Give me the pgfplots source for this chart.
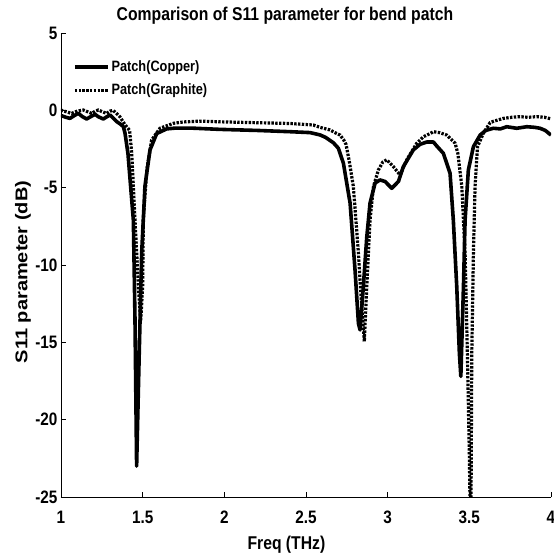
\documentclass[border=0pt]{standalone}
\usepackage{fontspec}
\usepackage{graphicx}
\usepackage{pgfplots}
\pgfplotsset{compat=1.18}
\setmainfont{Liberation Sans}[FakeStretch=0.85]
\newfontfamily\ylfont{Liberation Sans}
\newcommand\fs[1]{\fontsize{#1bp}{#1bp}\selectfont\bfseries}

\begin{document}
\begin{tikzpicture}
\useasboundingbox (-61bp,-60bp) rectangle (493bp,497bp);
\begin{axis}[
    at={(0,0)}, anchor=south west,
    scale only axis,
    width=490bp, height=464bp,
    xmin=1, xmax=4, ymin=-25, ymax=5,
    axis x line=bottom, axis y line=left,
    axis line style={-, line width=0.8bp},
    tick align=inside,
    major tick length=5bp,
    tick style={black, line width=0.6bp},
    xtick={1,1.5,2,2.5,3,3.5,4},
    xticklabels={1,1.5,2,2.5,3,3.5,4},
    ytick={-25,-20,-15,-10,-5,0,5},
    yticklabels={-25,-20,-15,-10,-5,0,5},
    ticklabel style={font=\fs{18}},
    xticklabel style={anchor=center, yshift=-20bp},
    title={Comparison of S11 parameter for bend patch},
    title style={font=\fs{18.5}, at={(axis description cs:0.457,1.024)}, anchor=center},
    xlabel={Freq (THz)},
    xlabel style={font=\fs{18.5}, at={(axis description cs:0.46,-0.1034)}, anchor=center},
    ylabel={\scalebox{1}[0.85]{S11 parameter (dB)}},
    ylabel style={font=\ylfont\fontsize{20bp}{20bp}\selectfont\bfseries, at={(axis description cs:-0.0776,0.485)}, anchor=center, rotate=0},
    legend style={draw=none, fill=none, at={(0.024,0.945)}, anchor=north west,
        font=\fs{15}, row sep=7bp, inner sep=0pt},
    legend cell align=left,
    legend image code/.code={\draw[#1] (0bp,0bp) -- (33bp,0bp);},
    clip=true,
]
\addplot[black, line width=3.6bp, line join=round] coordinates {
(1.00,-0.45)(1.004,-0.35)(1.03,-0.45)(1.055,-0.52)(1.08,-0.35)(1.106,-0.19)
(1.13,-0.40)(1.157,-0.56)(1.18,-0.42)(1.208,-0.26)(1.23,-0.42)(1.259,-0.56)
(1.28,-0.42)(1.30,-0.30)(1.32,-0.50)(1.341,-0.73)(1.365,-0.90)(1.382,-1.06)
(1.392,-1.48)(1.41,-2.8)(1.443,-7.1)(1.453,-13.5)(1.463,-23.0)(1.479,-15.7)
(1.494,-9.2)(1.514,-4.9)(1.545,-2.56)(1.586,-1.5)(1.647,-1.2)(1.70,-1.15)
(1.80,-1.15)(1.97,-1.23)(2.2,-1.3)(2.4,-1.38)(2.525,-1.44)(2.586,-1.59)
(2.62,-1.75)(2.668,-2.1)(2.698,-2.45)(2.729,-3.42)(2.770,-6.0)(2.80,-10.3)
(2.821,-13.77)(2.831,-14.2)(2.851,-11.4)(2.872,-8.2)(2.892,-6.0)(2.923,-4.7)
(2.953,-4.5)(2.984,-4.6)(3.025,-5.04)(3.066,-4.6)(3.096,-3.64)(3.157,-2.56)
(3.198,-2.2)(3.239,-2.05)(3.28,-2.05)(3.30,-2.3)(3.341,-2.78)(3.382,-4.07)
(3.402,-7.1)(3.423,-11.4)(3.439,-15.7)(3.448,-17.2)(3.464,-11.4)(3.474,-7.1)
(3.494,-3.86)(3.525,-2.35)(3.566,-1.6)(3.60,-1.3)(3.647,-1.16)(3.69,-1.2)
(3.729,-1.06)(3.79,-1.16)(3.852,-1.06)(3.90,-1.1)(3.933,-1.16)(3.965,-1.3)
(4.0,-1.6)
};
\addlegendentry{Patch(Copper)}
\addplot[black, line width=3.2bp, dash pattern=on 2.4bp off 1.4bp] coordinates {
(1.0,-0.05)(1.004,0.0)(1.035,-0.1)(1.065,-0.2)(1.10,-0.05)(1.137,0.02)
(1.165,-0.1)(1.188,-0.2)(1.21,-0.05)(1.229,0.02)(1.255,-0.1)(1.28,-0.2)
(1.30,-0.05)(1.32,0.0)(1.36,-0.41)(1.39,-0.9)(1.42,-1.3)(1.433,-2.76)
(1.453,-7.1)(1.474,-11.4)(1.488,-13.6)(1.50,-11.4)(1.504,-7.1)(1.525,-3.86)
(1.555,-1.92)(1.606,-1.16)(1.688,-0.84)(1.75,-0.75)(1.85,-0.7)(2.0,-0.75)
(2.2,-0.8)(2.4,-0.85)(2.545,-0.95)(2.586,-1.1)(2.647,-1.27)(2.688,-1.5)
(2.709,-1.6)(2.730,-1.9)(2.745,-2.2)(2.765,-3.3)(2.79,-4.93)(2.821,-9.24)
(2.841,-12.7)(2.857,-14.95)(2.872,-11.4)(2.892,-7.1)(2.913,-4.93)(2.943,-3.86)
(2.97,-3.35)(2.994,-3.2)(3.035,-3.64)(3.076,-4.18)(3.117,-3.2)(3.178,-2.13)
(3.22,-1.7)(3.26,-1.5)(3.28,-1.38)(3.32,-1.45)(3.362,-1.6)(3.413,-2.13)
(3.43,-2.8)(3.454,-4.93)(3.474,-9.24)(3.488,-15.7)(3.50,-22.2)(3.505,-26)
(3.51,-26)(3.515,-15.7)(3.525,-9.2)(3.535,-4.93)(3.55,-2.35)(3.586,-1.48)
(3.627,-0.8)(3.65,-0.7)(3.709,-0.52)(3.76,-0.45)(3.81,-0.41)(3.86,-0.45)
(3.913,-0.41)(3.96,-0.45)(4.0,-0.55)
};
\addlegendentry{Patch(Graphite)}
\end{axis}
\end{tikzpicture}
\end{document}
